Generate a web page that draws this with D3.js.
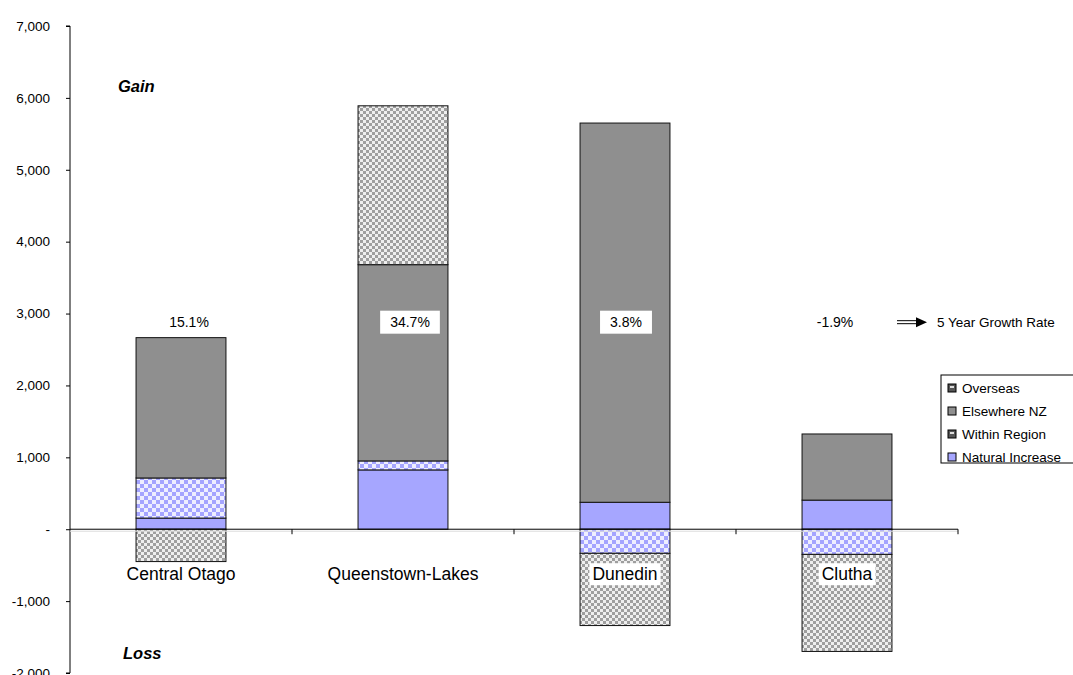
<!DOCTYPE html>
<html>
<head>
<meta charset="utf-8">
<script src="https://cdn.jsdelivr.net/npm/d3@7"></script>
<style>
  html, body { margin: 0; padding: 0; background: #fff; }
  svg { display: block; font-family: Arial, "Liberation Sans", sans-serif; }
</style>
</head>
<body>
<svg id="chart" width="1073" height="675"></svg>
<script>
// ---- data ----
const categories = ["Central Otago", "Queenstown-Lakes", "Dunedin", "Clutha"];
const seriesNames = ["Natural Increase", "Within Region", "Elsewhere NZ", "Overseas"];
const naturalIncrease = [155, 825, 375, 405];
const withinRegion = [558, 125, -335, -350];
const elsewhereNZ = [1952, 2730, 5275, 920];
const overseas = [-450, 2210, -1005, -1350];
const growthRates = ["15.1%", "34.7%", "3.8%", "-1.9%"];
const yTicks = [-2000, -1000, 0, 1000, 2000, 3000, 4000, 5000, 6000, 7000];

// ---- layout ----
const svg = d3.select("#chart");
const plotLeft = 70, plotRight = 958, plotTop = 26, plotBottom = 673;

const rows = categories.map((c, i) => ({
  category: c,
  "Natural Increase": naturalIncrease[i],
  "Within Region": withinRegion[i],
  "Elsewhere NZ": elsewhereNZ[i],
  "Overseas": overseas[i]
}));

const x = d3.scaleBand().domain(categories).range([plotLeft, plotRight]).padding(0);
const y = d3.scaleLinear().domain([-2000, 7000]).range([plotBottom, plotTop]);
const barW = x.bandwidth() * 0.405;

const stacked = d3.stack().keys(seriesNames).offset(d3.stackOffsetDiverging)(rows);

// patterns
const defs = svg.append("defs");
const pw = defs.append("pattern").attr("id", "withinPat").attr("patternUnits", "userSpaceOnUse")
  .attr("width", 8).attr("height", 8);
pw.append("rect").attr("width", 8).attr("height", 8).attr("fill", "#eeeeff");
pw.append("rect").attr("x", 0).attr("y", 0).attr("width", 4).attr("height", 4).attr("fill", "#a4a4ff");
pw.append("rect").attr("x", 4).attr("y", 4).attr("width", 4).attr("height", 4).attr("fill", "#a4a4ff");

const po = defs.append("pattern").attr("id", "overPat").attr("patternUnits", "userSpaceOnUse")
  .attr("width", 6).attr("height", 6);
po.append("rect").attr("width", 6).attr("height", 6).attr("fill", "#eeeeee");
po.append("rect").attr("x", 0).attr("y", 0).attr("width", 3).attr("height", 3).attr("fill", "#9e9e9e");
po.append("rect").attr("x", 3).attr("y", 3).attr("width", 3).attr("height", 3).attr("fill", "#9e9e9e");

const fills = {
  "Natural Increase": "#a6a6ff",
  "Within Region": "url(#withinPat)",
  "Elsewhere NZ": "#8f8f8f",
  "Overseas": "url(#overPat)"
};

// bars
svg.append("g").selectAll("g").data(stacked).join("g")
  .attr("fill", d => fills[d.key])
  .selectAll("rect").data(d => d).join("rect")
  .attr("x", d => x(d.data.category) + (x.bandwidth() - barW) / 2)
  .attr("y", d => y(Math.max(d[0], d[1])))
  .attr("width", barW)
  .attr("height", d => Math.abs(y(d[0]) - y(d[1])))
  .attr("stroke", "#111")
  .attr("stroke-width", 1);

// y axis
const fmt = d3.format(",");
const yAxis = d3.axisLeft(y).tickValues(yTicks).tickSize(4).tickPadding(16)
  .tickFormat(v => v === 0 ? "-" : fmt(v).replace("\u2212", "-"));
const gy = svg.append("g").attr("transform", `translate(${plotLeft},0)`).call(yAxis);
gy.select(".domain").attr("stroke", "#000").attr("d", `M-4,${plotTop}H0V${plotBottom}H-4`);
gy.selectAll(".tick line").attr("stroke", "#000");
gy.selectAll(".tick text").attr("font-size", "13.5px").attr("fill", "#000")
  .attr("font-family", "Arial, 'Liberation Sans', sans-serif");

// x axis at zero
const y0 = y(0);
svg.append("line").attr("x1", plotLeft).attr("x2", plotRight).attr("y1", y0 + 2).attr("y2", y0 + 2)
  .attr("stroke", "#dddddd").attr("stroke-width", 1);
const xAxis = d3.axisBottom(x).tickSize(0).tickFormat("");
const gx = svg.append("g").attr("transform", `translate(0,${y0})`).call(xAxis);
gx.select(".domain").attr("stroke", "#000").attr("d", `M${plotLeft},0H${plotRight}`);
gx.selectAll(".tick").remove();
// category boundary ticks
svg.append("g").selectAll("line").data(categories).join("line")
  .attr("x1", d => x(d) + x.bandwidth()).attr("x2", d => x(d) + x.bandwidth())
  .attr("y1", y0).attr("y2", y0 + 5).attr("stroke", "#000");

// category labels with white background
const labY = y0 + 45;
const catG = svg.append("g").selectAll("g").data(categories).join("g")
  .attr("transform", d => `translate(${x(d) + x.bandwidth() / 2},${labY})`);
catG.append("text").attr("text-anchor", "middle").attr("dy", "0.35em")
  .attr("font-size", "17.5px").attr("fill", "#000").text(d => d);
catG.each(function() {
  const g = d3.select(this);
  const bb = g.select("text").node().getBBox();
  g.insert("rect", "text").attr("x", bb.x - 3).attr("y", -11).attr("width", bb.width + 6).attr("height", 22)
    .attr("fill", "#fff");
});

// growth rate labels
const rateNudge = [8, 7, 1, -12];
const rateY = y(2880);
const rateG = svg.append("g").selectAll("g").data(growthRates).join("g")
  .attr("transform", (d, i) => `translate(${x(categories[i]) + x.bandwidth() / 2 + rateNudge[i]},${rateY})`);
rateG.append("text").attr("text-anchor", "middle").attr("dy", "0.35em")
  .attr("font-size", "14px").attr("fill", "#000").text(d => d);
rateG.each(function() {
  const g = d3.select(this);
  const bb = g.select("text").node().getBBox();
  g.insert("rect", "text").attr("x", bb.x - 10).attr("y", -11.5).attr("width", bb.width + 20).attr("height", 23)
    .attr("fill", "#fff");
});

// arrow + caption
const ag = svg.append("g").attr("transform", `translate(897,${rateY})`);
ag.append("line").attr("x1", 0).attr("x2", 20).attr("y1", -1.5).attr("y2", -1.5).attr("stroke", "#000").attr("stroke-width", 1);
ag.append("line").attr("x1", 0).attr("x2", 20).attr("y1", 1.5).attr("y2", 1.5).attr("stroke", "#000").attr("stroke-width", 1);
ag.append("path").attr("d", "M19,-5L30,0L19,5Z").attr("fill", "#000");
svg.append("text").attr("x", 937).attr("y", rateY).attr("dy", "0.35em")
  .attr("font-size", "13.5px").attr("fill", "#000").text("5 Year Growth Rate");

// Gain / Loss
svg.append("text").attr("x", 118).attr("y", 92).attr("font-size", "16.5px")
  .attr("font-weight", "bold").attr("font-style", "italic").attr("fill", "#000").text("Gain");
svg.append("text").attr("x", 123).attr("y", 659).attr("font-size", "16.5px")
  .attr("font-weight", "bold").attr("font-style", "italic").attr("fill", "#000").text("Loss");

// legend
const legend = svg.append("g").attr("transform", "translate(941,375)");
legend.append("rect").attr("x", 0).attr("y", 0).attr("width", 140).attr("height", 88)
  .attr("fill", "#fff").attr("stroke", "#000");
const legendOrder = seriesNames.slice().reverse();
const li = legend.selectAll("g.item").data(legendOrder).join("g").attr("class", "item")
  .attr("transform", (d, i) => `translate(7,${13 + i * 23})`);
li.append("rect").attr("x", 0).attr("y", -4).attr("width", 8).attr("height", 8)
  .attr("fill", d => d === "Overseas" ? "#555" : d === "Within Region" ? "#555" : fills[d])
  .attr("stroke", "#000");
li.filter(d => d === "Overseas" || d === "Within Region").append("rect")
  .attr("x", 2).attr("y", -2).attr("width", 4).attr("height", 2).attr("fill", "#ddd");
li.append("text").attr("x", 14).attr("dy", "0.35em").attr("font-size", "13.5px").attr("fill", "#000").text(d => d);
</script>
</body>
</html>
